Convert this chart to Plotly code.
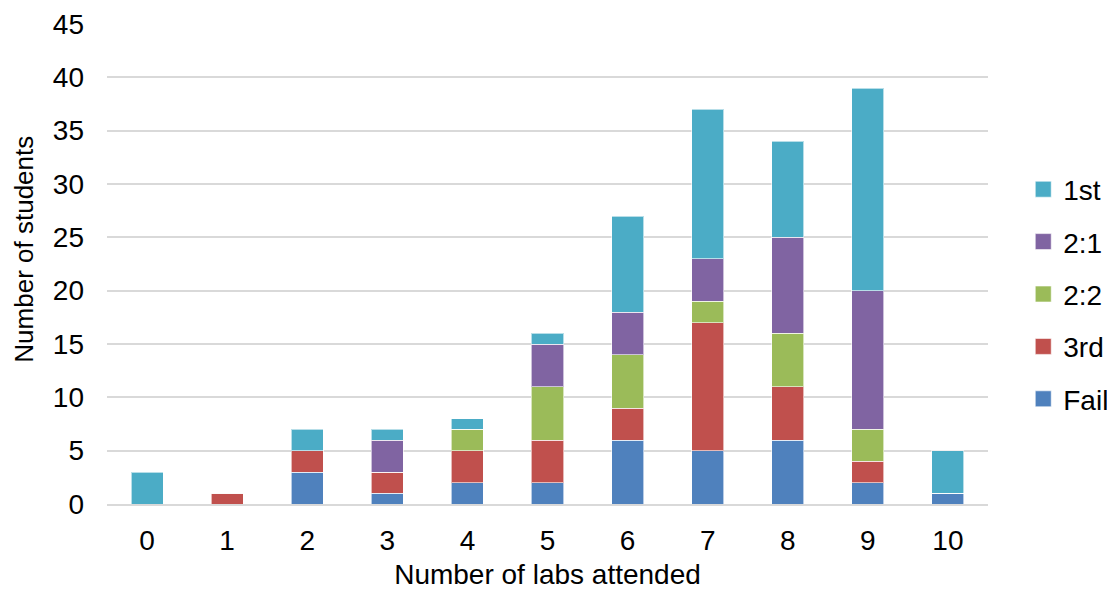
import plotly.graph_objects as go

labs = [0, 1, 2, 3, 4, 5, 6, 7, 8, 9, 10]
fail = [0, 0, 3, 1, 2, 2, 6, 5, 6, 2, 1]
third = [0, 1, 2, 2, 3, 4, 3, 12, 5, 2, 0]
two_two = [0, 0, 0, 0, 2, 5, 5, 2, 5, 3, 0]
two_one = [0, 0, 0, 3, 0, 4, 4, 4, 9, 13, 0]
first = [3, 0, 2, 1, 1, 1, 9, 14, 9, 19, 4]

series = [
    ("Fail", fail, "#4F81BD", 5),
    ("3rd", third, "#C0504D", 4),
    ("2:2", two_two, "#9BBB59", 3),
    ("2:1", two_one, "#8064A2", 2),
    ("1st", first, "#4BACC6", 1),
]

fig = go.Figure()
for name, vals, color, rank in series:
    fig.add_trace(go.Bar(
        x=labs, y=vals, name=name, showlegend=False,
        marker=dict(color=color, line=dict(color="rgba(255,255,255,0.6)", width=1)),
    ))
for name, vals, color, rank in series:
    fig.add_trace(go.Scatter(
        x=[None], y=[None], mode="markers", name=name, legendgroup=name, legendrank=rank,
        marker=dict(symbol="square", size=20, color=color, line=dict(color="rgba(255,255,255,0.6)", width=1)),
    ))

fig.update_layout(
    barmode="stack",
    bargap=0.6,
    width=1107, height=582,
    paper_bgcolor="white", plot_bgcolor="white",
    margin=dict(l=99, r=127, t=16, b=86, autoexpand=False),
    font=dict(family="Liberation Sans, Arial, sans-serif", size=28, color="#000000"),
    legend=dict(
        x=1.04, xanchor="left", y=0.4375, yanchor="middle",
        traceorder="grouped", tracegroupgap=13,
        font=dict(size=28),
    ),
    xaxis=dict(
        tickmode="array", tickvals=labs, ticktext=[str(v) for v in labs],
        range=[-0.5, 10.5], showgrid=False, showline=True, linecolor="#D9D9D9", linewidth=2,
        ticks="", ticklabelstandoff=10, automargin=False,
        title=dict(text="Number of labs attended", font=dict(size=28), standoff=11),
    ),
    yaxis=dict(
        range=[0, 45], dtick=5, showgrid=True, gridcolor="#D9D9D9", gridwidth=1.5,
        zeroline=False, showline=False, ticks="", ticklabelstandoff=22, automargin=False,
    ),
    annotations=[dict(
        text="Number of students", textangle=-90, showarrow=False,
        xref="paper", yref="paper", x=-0.0936, y=0.531,
        xanchor="center", yanchor="middle",
        font=dict(size=26),
    )],
)

fig.write_html("out.html")
